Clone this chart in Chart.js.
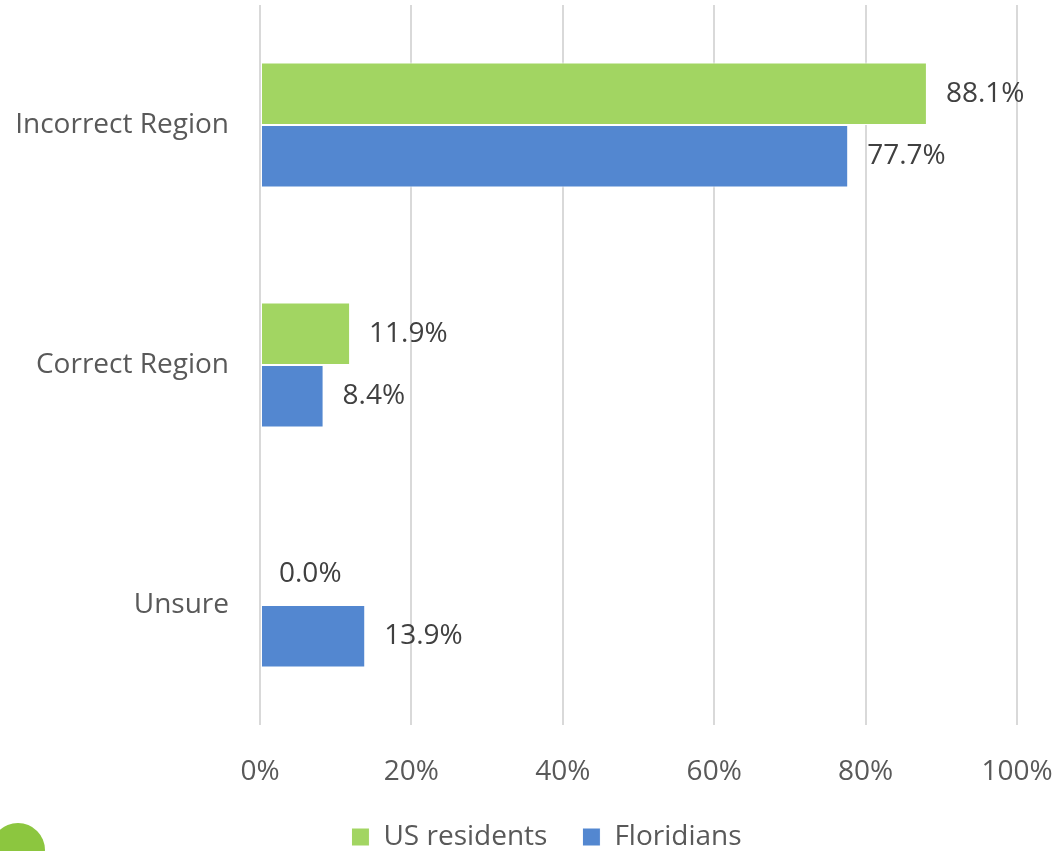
<!DOCTYPE html>
<html>
<head>
<meta charset="utf-8">
<script src="https://cdn.jsdelivr.net/npm/chart.js@4.4.1/dist/chart.umd.min.js"></script>
<style>
  html, body { margin: 0; padding: 0; background: #fff; }
  #wrap { position: relative; width: 1056px; height: 851px; overflow: hidden; }
  #logo {
    position: absolute; left: -9px; top: 823px; width: 54px; height: 54px;
    background: #8cc63f; border-radius: 50%;
  }
</style>
</head>
<body>
<div id="wrap">
  <canvas id="chart" width="1056" height="880"></canvas>
  <div id="logo"></div>
</div>
<script>
// ── Données ──
const categories = ['Incorrect Region', 'Correct Region', 'Unsure'];
const usResidents = [88.1, 11.9, 0.0];
const floridians = [77.7, 8.4, 13.9];
const xTicks = [0, 20, 40, 60, 80, 100];

const FONT = '"Open Sans", sans-serif';
const TEXT = '#595959';
const SIZE = 28;

// étiquettes de valeur à droite des barres
const valueLabels = {
  id: 'valueLabels',
  afterDatasetsDraw(chart) {
    const ctx = chart.ctx;
    ctx.save();
    ctx.font = SIZE + 'px ' + FONT;
    ctx.fillStyle = '#404040';
    ctx.textAlign = 'left';
    ctx.textBaseline = 'middle';
    chart.data.datasets.forEach((ds, i) => {
      chart.getDatasetMeta(i).data.forEach((bar, j) => {
        ctx.fillText(ds.data[j].toFixed(1) + '%', bar.x + 19, bar.y);
      });
    });
    ctx.restore();
  }
};

// légende un peu décalée vers la droite, comme dans l'original
const legendShift = {
  id: 'legendShift',
  afterLayout(chart) {
    chart.legend.left += 38;
    chart.legend.right += 38;
  }
};

new Chart(document.getElementById('chart'), {
  type: 'bar',
  data: {
    labels: categories,
    datasets: [
      { label: 'US residents', data: usResidents, backgroundColor: '#a2d562',
        borderColor: '#ffffff', borderWidth: 1, borderSkipped: false },
      { label: 'Floridians', data: floridians, backgroundColor: '#5387d0',
        borderColor: '#ffffff', borderWidth: 1, borderSkipped: false },
    ],
  },
  options: {
    indexAxis: 'y',
    responsive: false,
    animation: false,
    layout: { padding: { top: 5, right: 39, bottom: 19, left: 0 } },
    datasets: { bar: { categoryPercentage: 0.52, barPercentage: 1 } },
    plugins: {
      legend: {
        position: 'bottom',
        labels: { font: { family: FONT, size: SIZE }, color: TEXT, boxWidth: 18, boxHeight: 18, padding: 35 },
      },
      tooltip: { enabled: false },
    },
    scales: {
      x: {
        min: 0, max: 100,
        afterBuildTicks(axis) { axis.ticks = xTicks.map(v => ({ value: v })); },
        grid: { color: '#d9d9d9', lineWidth: 2, drawTicks: false },
        border: { display: false },
        ticks: { font: { family: FONT, size: SIZE }, color: TEXT, padding: 30, callback: v => v + '%' },
        afterFit(axis) { axis.height = 63; axis.paddingLeft = 0; axis.paddingRight = 0; },
      },
      y: {
        grid: { display: false, drawTicks: false },
        border: { display: false },
        ticks: { font: { family: FONT, size: SIZE }, color: TEXT, padding: 31 },
        afterFit(axis) { axis.width = 260; axis.paddingTop = 0; axis.paddingBottom = 0; },
      },
    },
  },
  plugins: [valueLabels, legendShift],
});
</script>
</body>
</html>
